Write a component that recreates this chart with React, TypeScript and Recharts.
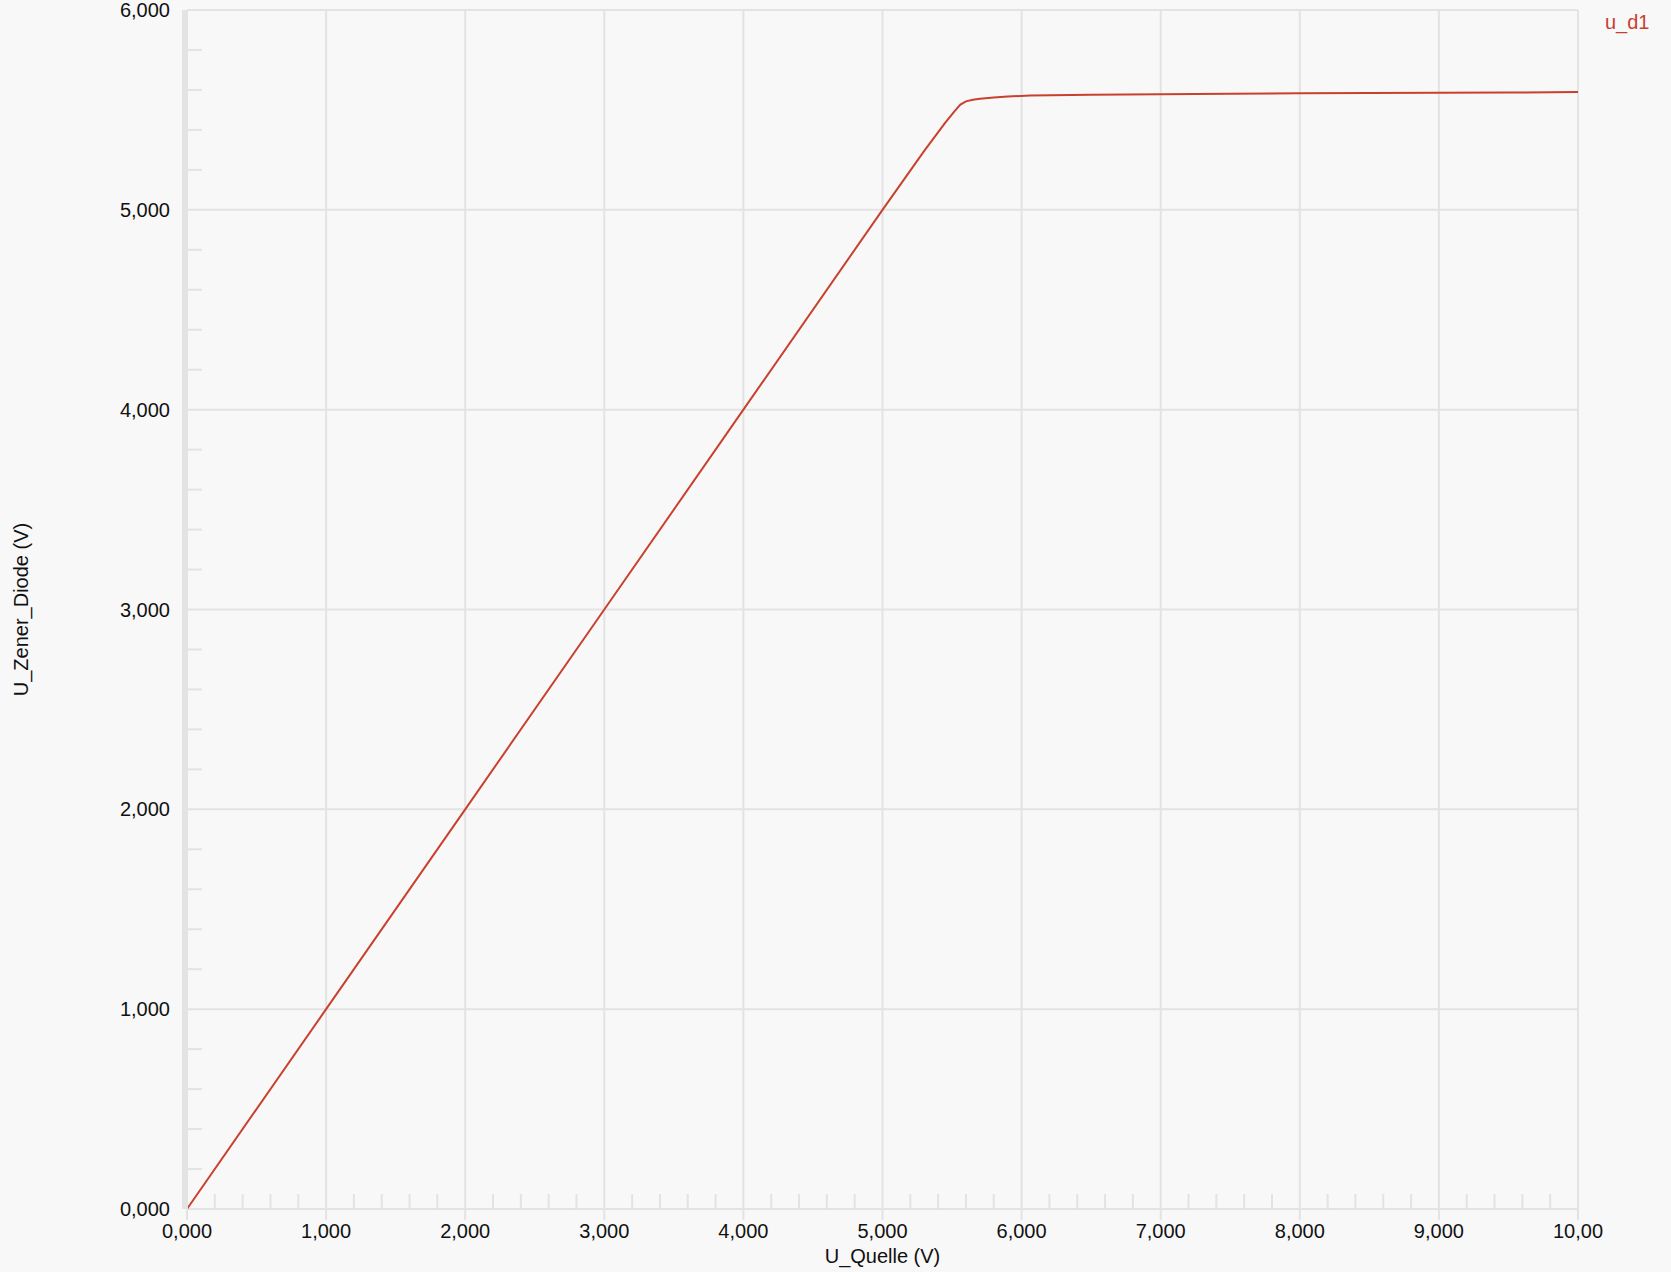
import { LineChart, Line, XAxis, YAxis, CartesianGrid } from "recharts";

// U_Quelle (V) vs U_Zener_Diode (V)
const uQuelle = [0, 1, 2, 3, 4, 5, 5.3, 5.45, 5.52, 5.56, 5.6, 5.65, 5.7, 5.8, 5.9, 6.06, 6.5, 7, 7.5, 8, 8.5, 9, 9.5, 10];
const uD1 = [0, 1, 2, 3, 4, 5, 5.295, 5.435, 5.495, 5.527, 5.543, 5.551, 5.556, 5.562, 5.567, 5.572, 5.576, 5.579, 5.581, 5.583, 5.585, 5.586, 5.587, 5.59];

const xMajor = [0, 1, 2, 3, 4, 5, 6, 7, 8, 9, 10];
const yMajor = [0, 1, 2, 3, 4, 5, 6];
// minor ticks every 0.2
const xTicks = Array.from({ length: 51 }, (_, i) => +(i * 0.2).toFixed(1));
const yTicks = Array.from({ length: 31 }, (_, i) => +(i * 0.2).toFixed(1));

const data = uQuelle.map((x, i) => ({ x, u_d1: uD1[i] }));

const FONT = '"Liberation Sans", Arial, sans-serif';
const GRID = "#e3e3e3";
const RED = "#c8412f";

const isMajor = (v: number) => Math.abs(v - Math.round(v)) < 1e-6;
// 5 characters, decimal comma: 0,000 ... 10,00
const fmt = (v: number) => (v < 10 ? v.toFixed(3) : v.toFixed(2)).replace(".", ",");

const XTick = (props: any) => {
  const { x, y, payload } = props;
  const v = payload.value;
  if (!isMajor(v)) {
    return <line x1={x} x2={x} y1={y} y2={y - 15} stroke={GRID} strokeWidth={2} />;
  }
  return (
    <g>
      <line x1={x} x2={x} y1={y} y2={y + 11} stroke={GRID} strokeWidth={2} />
      <text x={x} y={y + 29} textAnchor="middle" fill="#111" fontSize={20} fontFamily={FONT}>
        {fmt(v)}
      </text>
    </g>
  );
};

const YTick = (props: any) => {
  const { x, y, payload } = props;
  const v = payload.value;
  if (!isMajor(v)) {
    return <line x1={x} x2={x + 15} y1={y} y2={y} stroke={GRID} strokeWidth={2} />;
  }
  return (
    <text x={x - 17} y={y + 7} textAnchor="end" fill="#111" fontSize={20} fontFamily={FONT}>
      {fmt(v)}
    </text>
  );
};

export default function App() {
  return (
    <div style={{ position: "absolute", left: 0, top: 0, width: 1671, height: 1272, background: "#f8f8f8" }}>
      <LineChart width={1671} height={1272} data={data} margin={{ top: 10, right: 93, bottom: 0, left: 0 }}>
        <CartesianGrid horizontalValues={yMajor} verticalValues={xMajor} stroke={GRID} strokeWidth={2} />
        <XAxis
          dataKey="x"
          type="number"
          domain={[0, 10]}
          ticks={xTicks}
          interval={0}
          height={63}
          tickSize={0}
          tickMargin={0}
          tickLine={false}
          axisLine={false}
          tick={<XTick />}
          label={{ value: "U_Quelle (V)", position: "insideBottom", offset: 9, fill: "#111", fontSize: 20, fontFamily: FONT }}
        />
        <YAxis
          type="number"
          domain={[0, 6]}
          ticks={yTicks}
          interval={0}
          width={187}
          tickSize={0}
          tickMargin={0}
          tickLine={false}
          axisLine={{ stroke: GRID, strokeWidth: 6, transform: "translate(-2,0)" }}
          tick={<YTick />}
          label={{
            value: "U_Zener_Diode (V)",
            angle: -90,
            position: "insideLeft",
            offset: 21,
            fill: "#111",
            fontSize: 20,
            fontFamily: FONT,
            style: { textAnchor: "middle" },
          }}
        />
        <Line type="linear" dataKey="u_d1" stroke={RED} strokeWidth={2} dot={false} isAnimationActive={false} />
      </LineChart>
      <div style={{ position: "absolute", left: 1605, top: 11, color: RED, fontSize: 20, fontFamily: FONT, lineHeight: "normal" }}>
        u_d1
      </div>
    </div>
  );
}
